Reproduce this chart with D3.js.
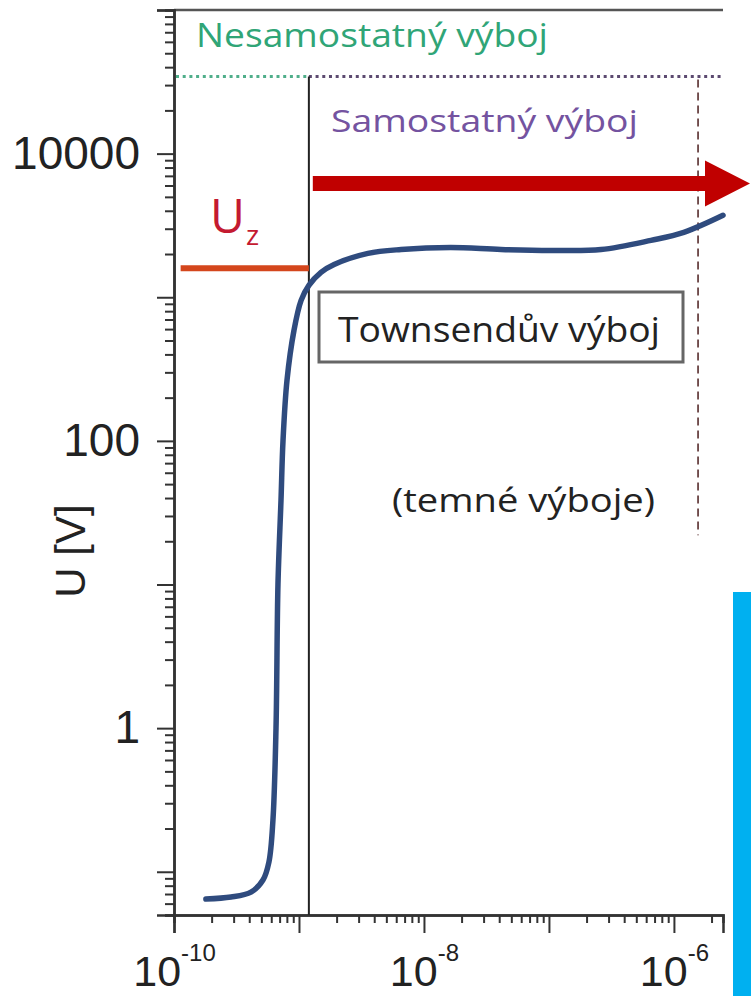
<!DOCTYPE html>
<html>
<head>
<meta charset="utf-8">
<script src="https://cdn.jsdelivr.net/npm/d3@7"></script>
<style>
  html, body { margin: 0; padding: 0; background: #fff; }
  svg { display: block; }
</style>
</head>
<body>
<svg id="chart" width="751" height="996"></svg>
<script>
// discharge current [A] vs. voltage [V]
const currentA = [1.8e-10, 2.86e-10, 4.13e-10, 5.15e-10, 5.75e-10, 6.19e-10, 6.55e-10, 6.79e-10, 7.18e-10,
    7.45e-10, 8.02e-10, 9.12e-10, 1.04e-9, 1.2e-9, 1.5e-9, 1.91e-9, 3.56e-9, 6.55e-9, 1.64e-8, 4.13e-8,
    1.04e-7, 2.61e-7, 6.55e-7, 1.2e-6, 2.47e-6];
const voltageV = [0.0646, 0.0667, 0.0722, 0.0876, 0.117, 0.229, 1, 10, 38.6,
    100, 264, 588, 951, 1210, 1490, 1690, 2020, 2150, 2220, 2150,
    2120, 2150, 2490, 2830, 3720];

const xMajorTicks = [1e-10, 1e-9, 1e-8, 1e-7, 1e-6];
const xLabelTicks = [1e-10, 1e-8, 1e-6];
const yMajorTicks = [0.1, 1, 10, 100, 1000, 10000, 100000];
const yLabelTicks = [1, 100, 10000];

// annotation values
const thresholdCurrent = 1.2e-9;      // Townsend / self-sustained boundary
const selfSustainedVoltage = 34400;   // dotted separating line
const ignitionVoltage = 1590;         // U_z
const ignitionStart = 1.13e-10;
const darkEndCurrent = 1.56e-6;       // dashed line
const darkEndVoltage = 22;
const arrowStart = 1.29e-9;
const arrowVoltage = 6200;

const svg = d3.select("#chart");
const plotLeft = 174, plotRight = 723, plotTop = 10, plotBottom = 915;

const x = d3.scaleLog().domain([1e-10, 2.47e-6]).range([plotLeft, plotRight]);
const y = d3.scaleLog().domain([0.05, 1e5]).range([plotBottom, plotTop]);

function minorTicks(scale) {
    const [a, b] = scale.domain();
    const out = [];
    for (let e = Math.floor(Math.log10(a)); e <= Math.ceil(Math.log10(b)); e++) {
        for (let m = 2; m <= 9; m++) {
            const v = m * Math.pow(10, e);
            if (v >= a * 0.999 && v <= b * 1.001) out.push(v);
        }
    }
    return out;
}

const tickFont = "'Liberation Sans', Arial, sans-serif";
const noteFont = "'Open Sans', 'Noto Sans', sans-serif";

// blue side bar
svg.append("rect")
    .attr("x", 733).attr("y", 592)
    .attr("width", 18).attr("height", 404)
    .attr("fill", "#00b0f0");

// top frame line
svg.append("line")
    .attr("x1", plotLeft).attr("x2", plotRight)
    .attr("y1", plotTop).attr("y2", plotTop)
    .attr("stroke", "#555").attr("stroke-width", 2.5);

// y axis
const yMinor = svg.append("g")
    .attr("transform", `translate(${plotLeft},0)`)
    .call(d3.axisLeft(y).tickValues(minorTicks(y)).tickSize(9).tickFormat(""));
const yMajor = svg.append("g")
    .attr("transform", `translate(${plotLeft},0)`)
    .call(d3.axisLeft(y).tickValues(yMajorTicks).tickSize(17).tickPadding(17)
        .tickFormat(d => yLabelTicks.includes(d) ? d3.format("d")(d) : ""));
yMajor.selectAll("text")
    .attr("font-family", tickFont).attr("font-size", 46).attr("fill", "#222");

// x axis
const xMinor = svg.append("g")
    .attr("transform", `translate(0,${plotBottom})`)
    .call(d3.axisBottom(x).tickValues(minorTicks(x)).tickSize(8).tickFormat(""));
const xMajor = svg.append("g")
    .attr("transform", `translate(0,${plotBottom})`)
    .call(d3.axisBottom(x).tickValues(xMajorTicks).tickSize(18).tickFormat(""));
xMajor.selectAll(".tick text").remove();
xMajor.selectAll(".tick")
    .filter(d => xLabelTicks.includes(d))
    .append("text")
    .attr("y", 71)
    .attr("text-anchor", "middle")
    .attr("font-family", tickFont)
    .attr("fill", "#222")
    .each(function (d) {
        const t = d3.select(this);
        t.append("tspan").attr("font-size", 43).text("10");
        t.append("tspan").attr("font-size", 24).attr("dy", -25)
            .text(Math.round(Math.log10(d)));
    });

[yMinor, yMajor, xMinor, xMajor].forEach(g => {
    g.selectAll("line").attr("stroke", "#333").attr("stroke-width", 2);
    g.select(".domain").attr("stroke", "#333").attr("stroke-width", 2.5);
});

// y axis title
svg.append("text")
    .attr("transform", "translate(85,551) rotate(-90)")
    .attr("text-anchor", "middle")
    .attr("font-family", tickFont).attr("font-size", 42).attr("fill", "#222")
    .text("U [V]");

// dotted line separating non-self-sustained / self-sustained
svg.append("line")
    .attr("x1", x(1e-10) + 2).attr("x2", x(thresholdCurrent))
    .attr("y1", y(selfSustainedVoltage)).attr("y2", y(selfSustainedVoltage))
    .attr("stroke", "#4fae8a").attr("stroke-width", 3).attr("stroke-dasharray", "3,3.7");
svg.append("line")
    .attr("x1", x(thresholdCurrent)).attr("x2", plotRight)
    .attr("y1", y(selfSustainedVoltage)).attr("y2", y(selfSustainedVoltage))
    .attr("stroke", "#5c4a70").attr("stroke-width", 3).attr("stroke-dasharray", "3,3.7");

// vertical boundary line
svg.append("line")
    .attr("x1", x(thresholdCurrent)).attr("x2", x(thresholdCurrent))
    .attr("y1", y(selfSustainedVoltage)).attr("y2", plotBottom)
    .attr("stroke", "#222").attr("stroke-width", 2);

// dashed line (end of dark discharges)
svg.append("line")
    .attr("x1", x(darkEndCurrent)).attr("x2", x(darkEndCurrent))
    .attr("y1", y(selfSustainedVoltage) + 3).attr("y2", y(darkEndVoltage))
    .attr("stroke", "#6a4444").attr("stroke-width", 1.8).attr("stroke-dasharray", "8,5");

// region labels
svg.append("text")
    .attr("x", 196).attr("y", 47)
    .attr("font-family", noteFont).attr("font-size", 32).attr("fill", "#30a577")
    .attr("textLength", 352).attr("lengthAdjust", "spacingAndGlyphs")
    .text("Nesamostatný výboj");
svg.append("text")
    .attr("x", 331).attr("y", 132)
    .attr("font-family", noteFont).attr("font-size", 31).attr("fill", "#7453a0")
    .attr("textLength", 307).attr("lengthAdjust", "spacingAndGlyphs")
    .text("Samostatný výboj");

// red arrow
const ax0 = x(arrowStart), ay = y(arrowVoltage);
const headX = 705, tipX = 750;
svg.append("path")
    .attr("d", `M${ax0},${ay - 7.5} L${headX},${ay - 7.5} L${headX},${ay - 23} L${tipX},${ay}
        L${headX},${ay + 23} L${headX},${ay + 7.5} L${ax0},${ay + 7.5} Z`)
    .attr("fill", "#c00000");

// ignition voltage U_z
svg.append("line")
    .attr("x1", x(ignitionStart)).attr("x2", x(thresholdCurrent))
    .attr("y1", y(ignitionVoltage)).attr("y2", y(ignitionVoltage))
    .attr("stroke", "#d4461c").attr("stroke-width", 6);
const uz = svg.append("text")
    .attr("x", 210).attr("y", 233)
    .attr("font-family", noteFont).attr("fill", "#c41a30");
uz.append("tspan").attr("font-size", 48).text("U");
uz.append("tspan").attr("font-size", 28).attr("dy", 12).attr("dx", 1).text("z");

// Townsend box
svg.append("rect")
    .attr("x", 319).attr("y", 292)
    .attr("width", 364).attr("height", 70)
    .attr("fill", "#fff").attr("stroke", "#666").attr("stroke-width", 3);
svg.append("text")
    .attr("x", 338).attr("y", 342)
    .attr("font-family", noteFont).attr("font-size", 35).attr("fill", "#222")
    .attr("textLength", 322).attr("lengthAdjust", "spacingAndGlyphs")
    .text("Townsendův výboj");
svg.append("text")
    .attr("x", 392).attr("y", 512)
    .attr("font-family", noteFont).attr("font-size", 32).attr("fill", "#222")
    .attr("textLength", 263).attr("lengthAdjust", "spacingAndGlyphs")
    .text("(temné výboje)");

// characteristic curve
const pts = currentA.map((c, i) => [x(c), y(voltageV[i])]);
svg.append("path")
    .datum(pts)
    .attr("d", d3.line().curve(d3.curveCatmullRom.alpha(0.5)))
    .attr("fill", "none")
    .attr("stroke", "#2f4b7e")
    .attr("stroke-width", 5.5)
    .attr("stroke-linecap", "round");
</script>
</body>
</html>
